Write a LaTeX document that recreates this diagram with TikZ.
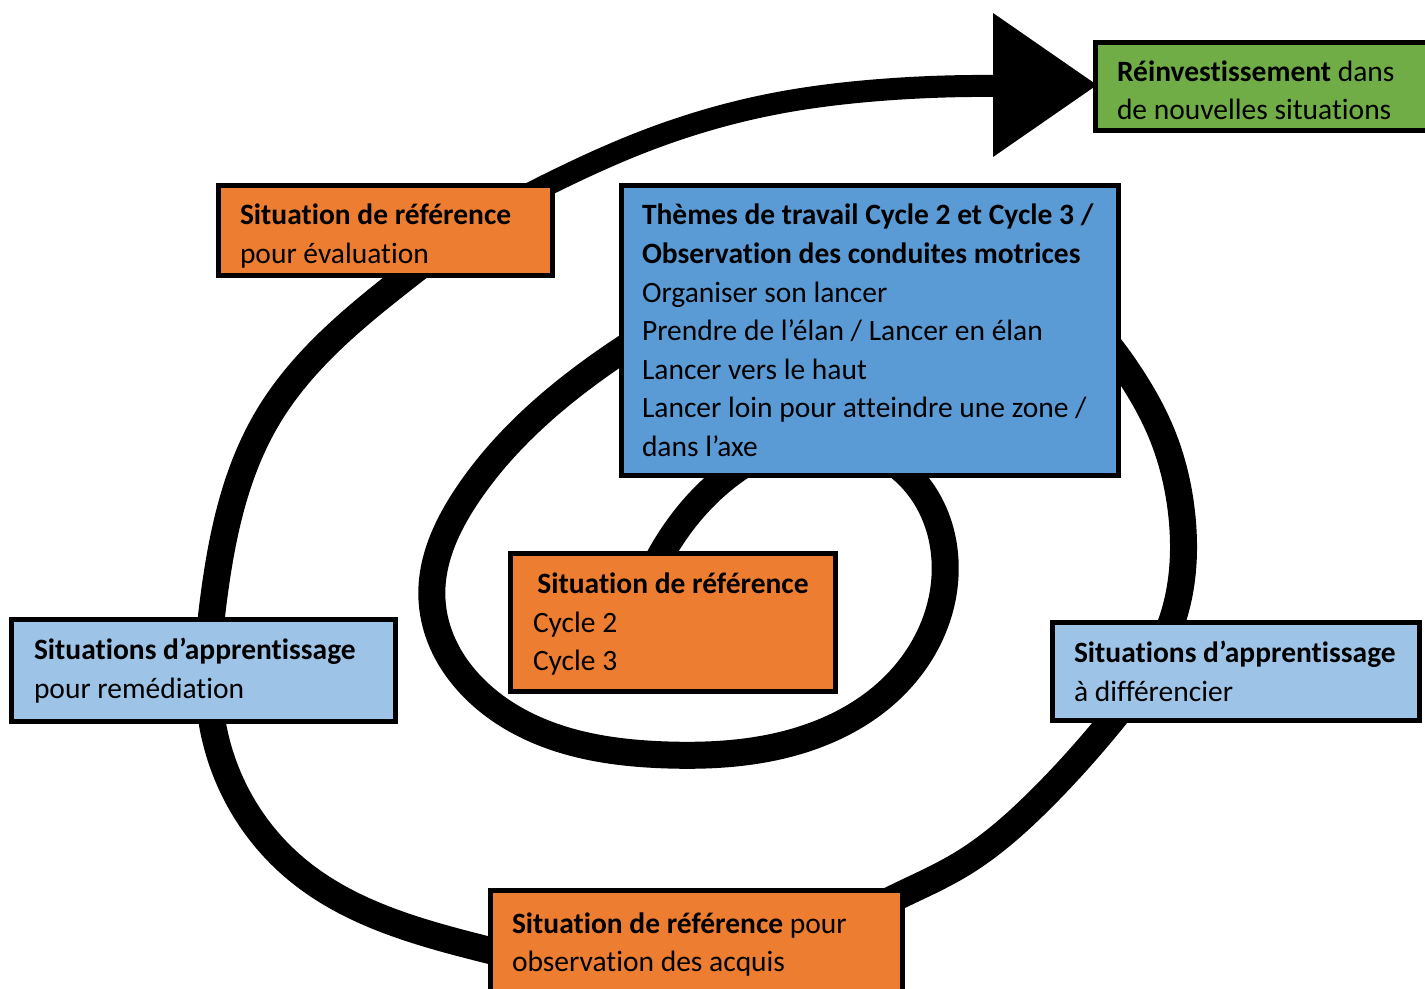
\documentclass[tikz,border=0pt]{standalone}
\usepackage{fontspec}
\setmainfont{Carlito}[Ligatures=NoCommon]
\usetikzlibrary{hobby}
\definecolor{refor}{HTML}{ED7D31}
\definecolor{themeblue}{HTML}{5B9BD5}
\definecolor{paleblue}{HTML}{9DC3E6}
\definecolor{reinvgreen}{HTML}{70AD47}
\newcommand\unbroken[1]{\mbox{#1}}
% align=left fixes word spaces at 1/3 em; go back to the font's own spaces
\newcommand\natspaces{\spaceskip=0pt\xspaceskip=0pt\relax}
\begin{document}
\begin{tikzpicture}[x=0.5pt,y=-0.5pt,
  box/.style={draw=black, line width=2.7pt, rectangle, inner sep=0pt,
    align=left, font=\fontsize{14.75}{19.3}\selectfont},
  spiral/.style={line width=13.5pt, line cap=round, line join=round,
    use Hobby shortcut}]
\useasboundingbox (0,0) rectangle (1425,989);

% the spiral, from its hidden centre outwards
\draw[spiral] (640,600) .. (663,551) .. (725,478) .. (818,440) .. (913,480)
  .. (945,560) .. (897,683) .. (783,745) .. (668,755) .. (511,717)
  .. (432,600) .. (468,494) .. (619,352)
  .. (760,280) .. (900,258) .. (1040,285) .. (1130,375) .. (1161,432)
  .. (1182,517) .. (1172,621) .. (1108,725) .. (1040,800) .. (960,865)
  .. (905,893) .. (680,975) .. (488,950) .. (295,868) .. (213,727)
  .. (214,596) .. (268,417) .. (402,280) .. (470,228);
% its last, thinner arc up to the arrow head
\draw[spiral, line width=11pt] (420,265) .. (470,228) .. (557,180)
  .. (640,143) .. (773,104) .. (880,90) .. (995,86);
\fill (993,13) -- (1097,85) -- (993,157) -- cycle;

\node[box, fill=reinvgreen, minimum width=173.25pt, minimum height=43.75pt,
  text width=152pt, text depth=15.5pt] (reinv) at (1269,86.5)
  {\natspaces\textbf{Réinvestissement} dans\\de nouvelles situations};

\node[box, fill=refor, minimum width=166.75pt, minimum height=44.75pt,
  text width=145.5pt, text depth=16.1pt] (evalbox) at (385.5,230.5)
  {\natspaces\textbf{Situation de référence}\\pour évaluation};

\node[box, fill=themeblue, minimum width=248.25pt, minimum height=144.75pt,
  text width=228pt] (themes) at (870,330.5)
  {\natspaces
   \unbroken{\textbf{Thèmes de travail Cycle 2 et Cycle 3 /}}\\
   \unbroken{\textbf{Observation des conduites motrices}}\\
   Organiser son lancer\\
   Prendre de l’élan / Lancer en élan\\
   Lancer vers le haut\\
   \unbroken{Lancer loin pour atteindre une zone /}\\
   dans l’axe};

\node[box, fill=refor, minimum width=162.25pt, minimum height=68.75pt,
  text width=140pt, text depth=39.4pt] (centre) at (673,622.5)
  {\natspaces\makebox[\linewidth][c]{\textbf{Situation de référence}}\\Cycle 2\\Cycle 3};

\node[box, fill=paleblue, minimum width=191.75pt, minimum height=50.75pt,
  text width=169.5pt] (remed) at (203.5,670.5)
  {\natspaces\unbroken{\textbf{Situations d’apprentissage}}\\pour remédiation};

\node[box, fill=paleblue, minimum width=183.25pt, minimum height=48.75pt,
  text width=162pt] (differ) at (1236,671.5)
  {\natspaces\unbroken{\textbf{Situations d’apprentissage}}\\à différencier};

\node[box, fill=refor, minimum width=205.75pt, minimum height=51.25pt,
  text width=184.5pt, text depth=19.1pt] (acquis) at (696.5,942)
  {\natspaces\textbf{Situation de référence} pour\\observation des acquis};
\end{tikzpicture}
\end{document}
